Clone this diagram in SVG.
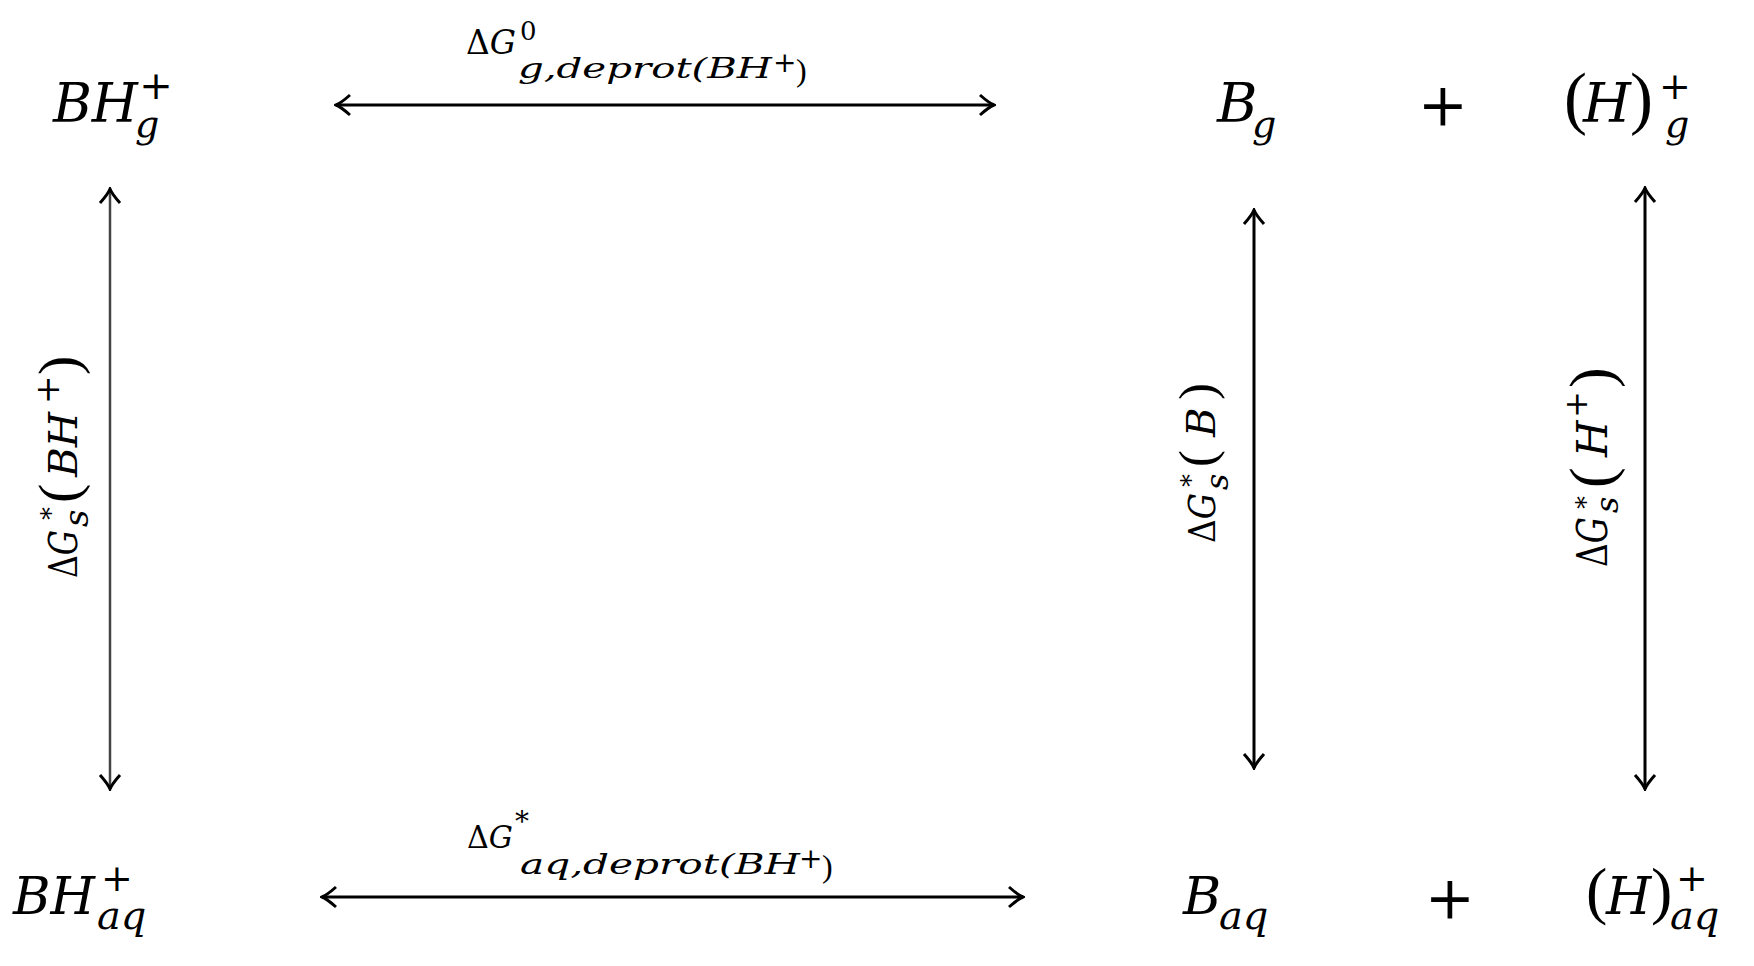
<svg xmlns="http://www.w3.org/2000/svg" width="1754" height="966" viewBox="0 0 1754 966">
<style>
text{font-family:"DejaVu Serif","Liberation Serif",serif;fill:#000}
.it{font-style:italic}
.up{font-style:normal}
.par{font-family:"Liberation Serif","DejaVu Serif",serif;font-style:normal}
.conn line{stroke:#000;stroke-width:3;fill:none}
.conn line.gray{stroke:#444;stroke-width:2.5}
</style>
<defs>
<marker id="ah" viewBox="-18 -14 20 28" refX="0" refY="0" markerWidth="20" markerHeight="28" markerUnits="userSpaceOnUse" orient="auto-start-reverse">
<path d="M-14,-10 Q-5,-2 0,0 Q-5,2 -14,10" fill="none" stroke="#000" stroke-width="3"/>
</marker>
</defs>
<rect width="1754" height="966" fill="#fff"/>

<g id="connectors" class="conn">
<line x1="336" y1="105" x2="994" y2="105" marker-start="url(#ah)" marker-end="url(#ah)"/>
<line x1="322" y1="897" x2="1023" y2="897" marker-start="url(#ah)" marker-end="url(#ah)"/>
<line class="gray" x1="110" y1="189" x2="110" y2="789" marker-start="url(#ah)" marker-end="url(#ah)"/>
<line x1="1254" y1="210" x2="1254" y2="768" marker-start="url(#ah)" marker-end="url(#ah)"/>
<line x1="1645" y1="188" x2="1645" y2="789" marker-start="url(#ah)" marker-end="url(#ah)"/>
</g>

<g id="node-BHg">
<text class="it" x="53" y="122" font-size="55" textLength="85" lengthAdjust="spacingAndGlyphs">BH</text>
<text class="up" x="156" y="99" font-size="40" text-anchor="middle">+</text>
<text class="it" x="135" y="137" font-size="38">g</text>
</g>

<g id="node-Bg">
<text class="it" x="1217" y="122" font-size="55">B</text>
<text class="it" x="1252" y="137" font-size="38">g</text>
</g>
<g id="plus-top"><text class="up" x="1443" y="125" font-size="60" text-anchor="middle">+</text></g>
<g id="node-Hg">
<text class="par" x="1564" y="121" font-size="69">(</text>
<text class="it" x="1583" y="122" font-size="55">H</text>
<text class="par" x="1630" y="121" font-size="69">)</text>
<text class="up" x="1675" y="99" font-size="38" text-anchor="middle">+</text>
<text class="it" x="1665" y="137" font-size="38">g</text>
</g>

<g id="node-BHaq">
<text class="it" x="13" y="914" font-size="52" textLength="82" lengthAdjust="spacingAndGlyphs">BH</text>
<text class="up" x="117" y="891" font-size="38" text-anchor="middle">+</text>
<text class="it" x="97" y="929" font-size="40">aq</text>
</g>
<g id="node-Baq">
<text class="it" x="1183" y="914" font-size="52">B</text>
<text class="it" x="1219" y="929" font-size="40">aq</text>
</g>
<g id="plus-bottom"><text class="up" x="1450" y="918" font-size="60" text-anchor="middle">+</text></g>
<g id="node-Haq">
<text class="par" x="1586" y="912" font-size="64">(</text>
<text class="it" x="1606" y="914" font-size="52">H</text>
<text class="par" x="1651" y="912" font-size="64">)</text>
<text class="up" x="1692" y="891" font-size="38" text-anchor="middle">+</text>
<text class="it" x="1670" y="929" font-size="40">aq</text>
</g>

<g id="label-top">
<text x="466" y="54" font-size="33" textLength="50" lengthAdjust="spacingAndGlyphs"><tspan class="up">Δ</tspan><tspan class="it">G</tspan></text>
<text class="up" x="520" y="40" font-size="26">0</text>
<text class="it" x="518" y="78" font-size="27" textLength="254" lengthAdjust="spacingAndGlyphs">g,deprot(BH</text>
<text class="up" x="773" y="72" font-size="28">+</text>
<text class="par" x="796" y="81" font-size="32">)</text>
</g>

<g id="label-bottom">
<text x="467" y="848" font-size="32" textLength="46" lengthAdjust="spacingAndGlyphs"><tspan class="up">Δ</tspan><tspan class="it">G</tspan></text>
<text class="up" x="515" y="831" font-size="28">*</text>
<text class="it" x="520" y="874" font-size="27" textLength="280" lengthAdjust="spacingAndGlyphs">aq,deprot(BH</text>
<text class="up" x="799" y="868" font-size="28">+</text>
<text class="par" x="822" y="877" font-size="32">)</text>
</g>

<g id="label-left" transform="translate(77,578) rotate(-90)">
<text x="0" y="0" font-size="40" textLength="48" lengthAdjust="spacingAndGlyphs"><tspan class="up">Δ</tspan><tspan class="it">G</tspan></text>
<text class="up" x="58" y="-17" font-size="26">*</text>
<text class="it" x="51" y="11" font-size="34">s</text>
<text class="par" x="75" y="1" font-size="58">(</text>
<text class="it" x="101" y="0" font-size="40" textLength="65" lengthAdjust="spacingAndGlyphs">BH</text>
<text class="up" x="174" y="-18" font-size="34">+</text>
<text class="par" x="203" y="1" font-size="58">)</text>
</g>

<g id="label-mid" transform="translate(1215,543) rotate(-90)">
<text x="0" y="0" font-size="38" textLength="50" lengthAdjust="spacingAndGlyphs"><tspan class="up">Δ</tspan><tspan class="it">G</tspan></text>
<text class="up" x="56" y="-15" font-size="26">*</text>
<text class="it" x="53" y="13" font-size="32">s</text>
<text class="par" x="76" y="-1" font-size="51">(</text>
<text class="it" x="106" y="0" font-size="40">B</text>
<text class="par" x="143" y="-1" font-size="51">)</text>
</g>

<g id="label-right" transform="translate(1607,567) rotate(-90)">
<text x="0" y="0" font-size="42" textLength="50" lengthAdjust="spacingAndGlyphs"><tspan class="up">Δ</tspan><tspan class="it">G</tspan></text>
<text class="up" x="58" y="-12" font-size="26">*</text>
<text class="it" x="54" y="11" font-size="32">s</text>
<text class="par" x="79" y="5" font-size="62">(</text>
<text class="it" x="110" y="0" font-size="42">H</text>
<text class="up" x="149" y="-20" font-size="32">+</text>
<text class="par" x="179" y="5" font-size="62">)</text>
</g>
</svg>
